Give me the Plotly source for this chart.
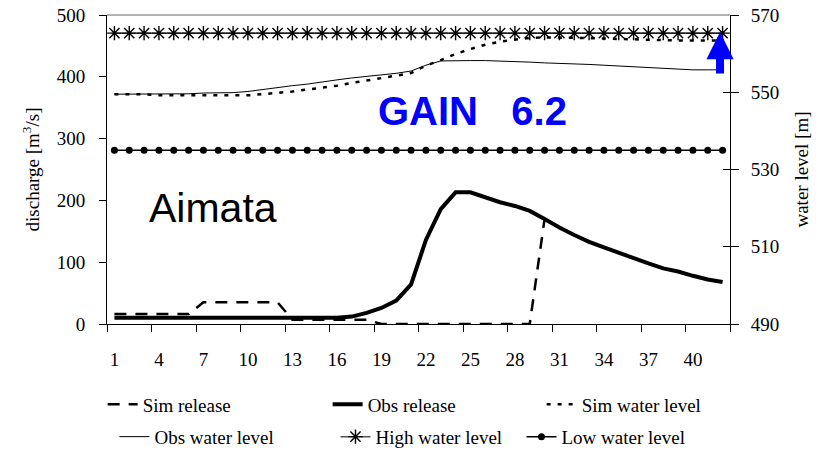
import plotly.graph_objects as go

# Daily series for the Aimata reservoir (42 days)
days = [str(d) for d in range(1, 43)]

sim_release = [16, 16, 16, 16, 16, 16,
               35, 35, 35, 35, 35, 35,
               7, 7, 7, 7, 7, 7,
               0, 0, 0, 0, 0, 0, 0, 0, 0, 0, 0,
               170] + [None] * 12

obs_release = [10, 10, 10, 10, 10, 10, 10, 10, 10, 10, 10, 10, 10, 10, 10, 10,
               12, 18, 26, 38, 64, 136, 186, 213, 213, 205, 197, 191, 183, 170,
               156, 144, 133, 124, 115, 106, 98, 90, 85, 78, 72, 68]

sim_level = [549.5, 549.5, 549.5, 549.2, 549.2, 549.2, 549.3, 549.3, 549.3, 549.2,
             549.5, 549.8, 550.2, 550.7, 551.2, 551.7, 552.4, 553.0, 553.6, 554.3,
             555.0, 556.9, 558.3, 559.9, 561.2, 562.3, 563.1, 563.6, 564.1, 564.2,
             564.2, 564.1, 564.0, 563.9, 563.7, 563.6, 563.5, 563.4, 563.4, 563.4,
             563.4, 563.4]

obs_level = [549.5, 549.5, 549.5, 549.5, 549.5, 549.6, 549.8, 549.8, 549.9, 550.2,
             550.7, 551.3, 551.7, 552.1, 552.7, 553.2, 553.7, 554.1, 554.5, 554.9,
             555.5, 557.0, 558.1, 558.2, 558.2, 558.2, 558.1, 558.0, 557.8, 557.6,
             557.5, 557.3, 557.2, 557.0, 556.8, 556.6, 556.3, 556.1, 555.9, 555.8,
             555.8, 555.8]

high_level = [565.3] * 42
low_level = [535.0] * 42

serif = "Liberation Serif, Times New Roman, serif"
sans = "Arial, Liberation Sans, sans-serif"

fig = go.Figure()

fig.add_trace(go.Scatter(x=days, y=sim_release, name="Sim release", mode="lines",
                         line=dict(color="black", width=2.5, dash="12px,9px"),
                         yaxis="y", legend="legend", legendwidth=180))
fig.add_trace(go.Scatter(x=days, y=obs_release, name="Obs release", mode="lines",
                         line=dict(color="black", width=4), yaxis="y",
                         legend="legend", legendwidth=169))
fig.add_trace(go.Scatter(x=days, y=sim_level, name="Sim water level", mode="lines",
                         line=dict(color="black", width=2.5, dash="4px,7px"),
                         yaxis="y2", legend="legend", legendwidth=150))
fig.add_trace(go.Scatter(x=days, y=obs_level, name="Obs water level", mode="lines",
                         line=dict(color="black", width=1), yaxis="y2",
                         legend="legend2", legendwidth=176))
fig.add_trace(go.Scatter(x=days, y=high_level, name="High water level",
                         mode="lines+markers",
                         line=dict(color="#555555", width=1.5),
                         marker=dict(symbol="asterisk-open", size=12, color="black",
                                     line=dict(color="black", width=1.4)),
                         yaxis="y2", legend="legend2", legendwidth=141))
fig.add_trace(go.Scatter(x=days, y=low_level, name="Low water level",
                         mode="lines+markers",
                         line=dict(color="black", width=1.5),
                         marker=dict(symbol="circle", size=7, color="black"),
                         yaxis="y2", legend="legend2", legendwidth=150))
# keeps the inside-tick copy of the right axis alive
fig.add_trace(go.Scatter(x=[days[0]], y=[None], yaxis="y3", showlegend=False,
                         hoverinfo="skip"))

legend_common = dict(orientation="h", xanchor="left", yanchor="middle",
                     font=dict(family=serif, size=19),
                     bgcolor="rgba(0,0,0,0)")

fig.update_layout(
    width=827, height=450,
    margin=dict(l=107, r=97, t=15, b=126, autoexpand=False),
    paper_bgcolor="white", plot_bgcolor="white",
    font=dict(family=serif, size=19, color="black"),
    showlegend=True,
    legend=dict(x=-0.007, y=-0.26, **legend_common),
    legend2=dict(x=0.012, y=-0.365, **legend_common),
    xaxis=dict(type="category", range=[-0.5, 41.5], dtick=3, tickson="boundaries",
               ticks="outside", ticklen=7, tickcolor="black", tickangle=0,
               ticklabelstandoff=18, automargin=False,
               showline=True, linecolor="black", linewidth=1,
               showgrid=False, zeroline=False,
               tickfont=dict(family=serif, size=19)),
    yaxis=dict(range=[0, 500], dtick=100, ticks="outside", ticklen=7,
               tickcolor="black", showline=True, linecolor="black", linewidth=1,
               showgrid=False, zeroline=False, automargin=False,
               ticklabelstandoff=10,
               title=dict(text="discharge [m<sup>3</sup>/s]", standoff=12,
                          font=dict(family=serif, size=19)),
               tickfont=dict(family=serif, size=19)),
    yaxis2=dict(range=[490, 570], tick0=490, dtick=20, overlaying="y", side="right",
                ticks="outside", ticklen=8, tickcolor="black",
                showline=True, linecolor="black", linewidth=1,
                showgrid=False, zeroline=False, automargin=False,
                ticklabelstandoff=8,
                title=dict(text="water level [m]", standoff=16,
                           font=dict(family=serif, size=19)),
                tickfont=dict(family=serif, size=19)),
    yaxis3=dict(range=[490, 570], tick0=490, dtick=20, overlaying="y", side="right",
                ticks="inside", ticklen=7, tickcolor="black",
                showticklabels=False, showline=False, automargin=False,
                showgrid=False, zeroline=False),
    shapes=[dict(type="line", xref="paper", yref="paper", x0=0, x1=1, y0=1, y1=1,
                 line=dict(color="#666666", width=1))],
    annotations=[
        dict(text="Aimata", xref="paper", yref="paper", x=0.170, y=0.377,
             xanchor="center", yanchor="middle",
             showarrow=False, font=dict(family=sans, size=41, color="black")),
        dict(text="<b>GAIN\u00a0\u00a0\u00a06.2</b>", xref="paper", yref="paper",
             x=0.586, y=0.690, xanchor="center", yanchor="middle", showarrow=False,
             font=dict(family=sans, size=40, color="#0000ff")),
        dict(text="", xref="paper", yref="paper", x=0.984, y=0.945,
             ax=0, ay=43, showarrow=True, arrowhead=2, arrowsize=0.68,
             arrowwidth=8, arrowcolor="#0000ff"),
    ],
)

fig.write_html("out.html")
